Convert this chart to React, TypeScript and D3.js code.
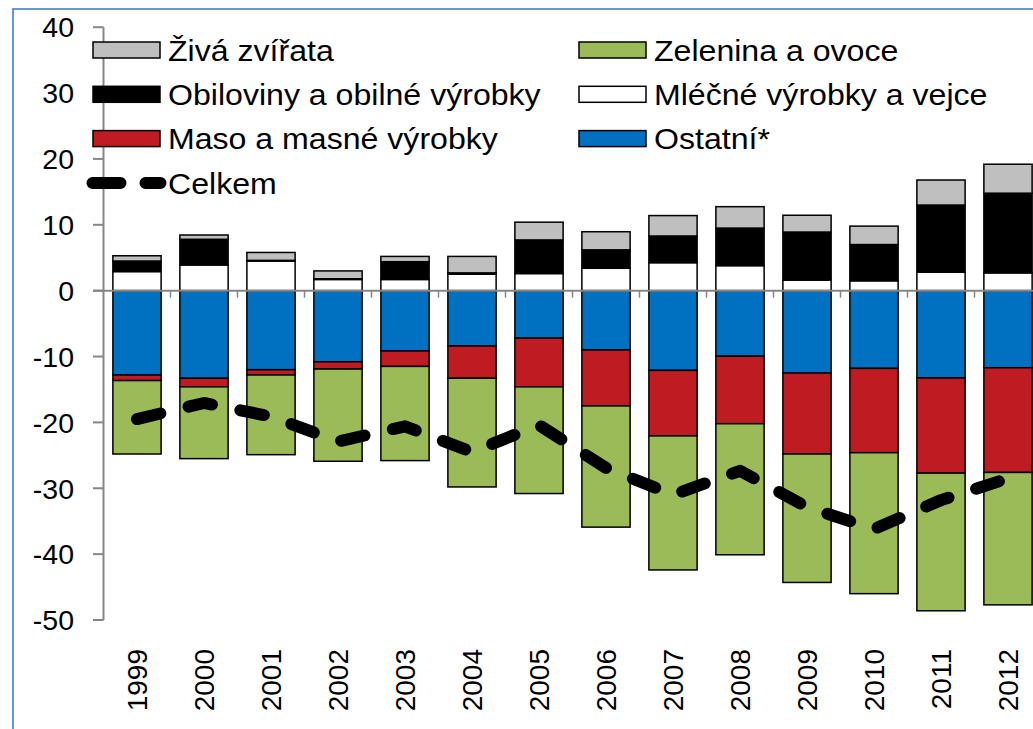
import * as d3 from 'd3'

// roky a hodnoty (mld. Kč)
const years = ['1999', '2000', '2001', '2002', '2003', '2004', '2005', '2006', '2007', '2008', '2009', '2010', '2011', '2012']

const zivaZvirata = [0.8, 0.65, 1.2, 1.2, 0.8, 2.5, 2.7, 2.75, 3.1, 3.25, 2.55, 2.8, 3.8, 4.4]
const obiloviny = [1.6, 3.9, 0.1, 0.1, 2.7, 0.2, 5.1, 2.8, 4.05, 5.7, 7.3, 5.5, 10.2, 12.1]
const mlecne = [2.9, 3.9, 4.5, 1.7, 1.7, 2.5, 2.6, 3.4, 4.25, 3.8, 1.6, 1.5, 2.8, 2.7]
const ostatni = [-12.8, -13.3, -12.0, -10.8, -9.15, -8.4, -7.2, -9.0, -12.1, -9.95, -12.5, -11.8, -13.25, -11.7]
const maso = [-0.85, -1.3, -0.8, -1.1, -2.35, -4.9, -7.4, -8.5, -9.95, -10.25, -12.3, -12.8, -14.45, -15.9]
const zelenina = [-11.15, -10.9, -12.1, -14.0, -14.3, -16.5, -16.2, -18.4, -20.35, -19.9, -19.5, -21.4, -20.9, -20.1]
const celkem = [-19.5, -17.05, -19.1, -22.9, -20.6, -24.5, -20.4, -26.9, -31.0, -27.35, -32.85, -36.2, -31.8, -28.5]

const yTicks = [40, 30, 20, 10, 0, -10, -20, -30, -40, -50]

const series = [
  { key: 'mlecne', name: 'Mléčné výrobky a vejce', color: '#FFFFFF', values: mlecne },
  { key: 'obiloviny', name: 'Obiloviny a obilné výrobky', color: '#000000', values: obiloviny },
  { key: 'ziva', name: 'Živá zvířata', color: '#BFBFBF', values: zivaZvirata },
  { key: 'ostatni', name: 'Ostatní*', color: '#0070C0', values: ostatni },
  { key: 'maso', name: 'Maso a masné výrobky', color: '#BE1C22', values: maso },
  { key: 'zelenina', name: 'Zelenina a ovoce', color: '#9BBB59', values: zelenina },
]

// pořadí v legendě (dva sloupce)
const legendLeft = ['ziva', 'obiloviny', 'maso']
const legendRight = ['zelenina', 'mlecne', 'ostatni']

const W = 1033
const H = 729
const FONT = 'Liberation Sans, Arial, sans-serif'

export default function App() {
  const x = d3
    .scaleBand()
    .domain(years)
    .range([103.5, 103.5 + 14 * 67])
    .paddingInner(0.28)
    .paddingOuter(0.14)

  const y = d3.scaleLinear().domain([-50, 40]).range([620, 27.2])

  // tabulka pro d3.stack
  const table = years.map((yr, i) => {
    const row: any = { year: yr }
    series.forEach((s) => (row[s.key] = s.values[i]))
    return row
  })

  const stacked = d3
    .stack()
    .keys(series.map((s) => s.key))
    .offset(d3.stackOffsetDiverging)(table)

  const line = d3
    .line<number>()
    .x((_, i) => (x(years[i]) as number) + x.bandwidth() / 2)
    .y((d) => y(d))

  const step = x.step()
  const x0 = x.range()[0]
  const byKey = (k: string) => series.find((s) => s.key === k)!

  const legendRow = (k: string, i: number, sx: number) => {
    const s = byKey(k)
    const cy = 50 + i * 44.3
    return (
      <g key={k}>
        <rect x={sx} y={cy - 8} width={67} height={16} fill={s.color} stroke="#000" strokeWidth={1.5} />
        <text
          transform={`translate(${sx + 75},${cy + 10.8}) scale(1.07,1)`}
          fontSize={30}
          fontFamily={FONT}
          fill="#000"
        >
          {s.name}
        </text>
      </g>
    )
  }

  return (
    <svg
      width={W}
      height={H}
      style={{ position: 'absolute', left: 0, top: 0, background: '#fff' }}
    >
      {/* rámeček */}
      <rect x={13} y={9} width={W + 20} height={H + 20} fill="none" stroke="#5B8BD0" strokeWidth={1.8} />

      {/* osa y */}
      <line x1={103.5} x2={103.5} y1={y(40)} y2={y(-50)} stroke="#868686" strokeWidth={2} />
      {yTicks.map((t) => (
        <g key={t}>
          <line x1={93} x2={103.5} y1={y(t)} y2={y(t)} stroke="#868686" strokeWidth={2} />
          <text x={74} y={y(t)} dy="0.36em" textAnchor="end" fontSize={28.5} fontFamily={FONT} fill="#000">
            {t}
          </text>
        </g>
      ))}

      {/* sloupce */}
      {stacked.map((layer) => {
        const s = byKey(layer.key)
        return (
          <g key={layer.key}>
            {layer.map((d, i) => (
              <rect
                key={i}
                x={x(years[i])}
                width={x.bandwidth()}
                y={y(Math.max(d[0], d[1]))}
                height={Math.abs(y(d[0]) - y(d[1]))}
                fill={s.color}
                stroke="#000"
                strokeWidth={1.5}
              />
            ))}
          </g>
        )
      })}

      {/* osa x v nule */}
      <line x1={93} x2={W} y1={y(0)} y2={y(0)} stroke="#868686" strokeWidth={2} />
      {years.map((_, i) => (
        <line
          key={i}
          x1={x0 + (i + 1) * step}
          x2={x0 + (i + 1) * step}
          y1={y(0)}
          y2={y(0) + 7}
          stroke="#868686"
          strokeWidth={1.5}
        />
      ))}

      {/* Celkem */}
      <path
        d={line(celkem) || ''}
        fill="none"
        stroke="#000"
        strokeWidth={12}
        strokeLinecap="round"
        strokeLinejoin="round"
        strokeDasharray="24,29"
      />

      {/* popisky let */}
      {years.map((yr) => (
        <text
          key={yr}
          transform={`translate(${(x(yr) as number) + x.bandwidth() / 2},649) rotate(-90)`}
          textAnchor="end"
          dy="0.36em"
          fontSize={28}
          fontFamily={FONT}
          fill="#000"
        >
          {yr}
        </text>
      ))}

      {/* legenda */}
      {legendLeft.map((k, i) => legendRow(k, i, 93))}
      {legendRight.map((k, i) => legendRow(k, i, 579))}
      <g>
        <line
          x1={92.5}
          x2={160.5}
          y1={183}
          y2={183}
          stroke="#000"
          strokeWidth={12}
          strokeLinecap="round"
          strokeDasharray="28,25"
        />
        <text
          transform="translate(168,193.8) scale(1.07,1)"
          fontSize={30}
          fontFamily={FONT}
          fill="#000"
        >
          Celkem
        </text>
      </g>
    </svg>
  )
}
